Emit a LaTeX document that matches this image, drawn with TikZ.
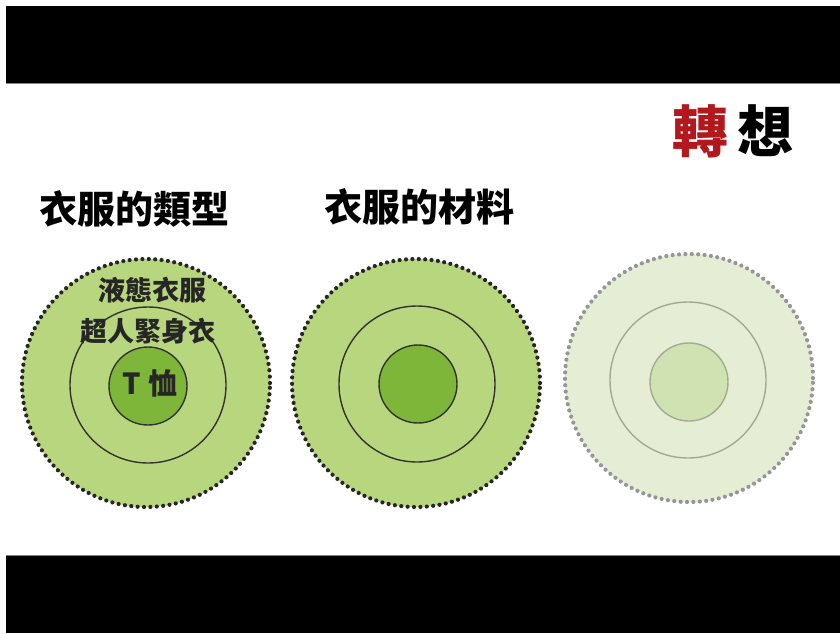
\documentclass[tikz,border=0pt]{standalone}
\usepackage{fontspec}
\newfontfamily\cjk{Noto Sans CJK TC}
\definecolor{gA}{RGB}{184,214,126}
\definecolor{gB}{RGB}{126,182,58}
\definecolor{pA}{RGB}{229,238,212}
\definecolor{pB}{RGB}{208,226,178}
\definecolor{pLine}{RGB}{160,172,145}
\definecolor{pDot}{RGB}{150,150,150}
\definecolor{redT}{RGB}{178,24,30}
\tikzset{
  outerring/.style={circle, minimum size=248pt, inner sep=0pt, fill=gA, draw=black!85, line width=4.2pt, dash pattern=on 0pt off 6.4pt, line cap=round},
  midring/.style={circle, minimum size=156pt, inner sep=0pt, draw=black!80, line width=1.4pt},
  innerring/.style={circle, minimum size=78pt, inner sep=0pt, fill=gB, draw=black!80, line width=1.4pt},
  title/.style={font=\cjk\bfseries\fontsize{38}{38}\selectfont, inner sep=0pt},
  label/.style={font=\cjk\bfseries\fontsize{27}{27}\selectfont, inner sep=0pt, text=black!85},
}
\begin{document}
\begin{tikzpicture}[x=1pt,y=-1pt]
\useasboundingbox (0,0) rectangle (840,633);
\fill[white] (0,0) rectangle (840,633);
\fill[black] (6,6) rectangle (840,83);
\fill[black] (6,556) rectangle (840,633);
\draw[gray, line width=1pt] (6,83.5) -- (840,83.5);
\draw[gray, line width=1pt] (6,555.5) -- (840,555.5);
% title
\node[title, font=\cjk\bfseries\fontsize{56}{56}\selectfont, anchor=west] (zhuan) at (672,131) {\textcolor{redT}{轉}\,想};
\node[title, anchor=west] (t1) at (39,209) {衣服的類型};
\node[title, anchor=west] (t2) at (324,207) {衣服的材料};
% circle 1
\node[outerring] (o1) at (146,383) {};
\node[midring] (m1) at (148,385) {};
\node[innerring] (i1) at (148,386) {};
\node[label] (l1) at (152,290) {液態衣服};
\node[label] (l2) at (148,331) {超人緊身衣};
\node[label, font=\cjk\bfseries\fontsize{29}{29}\selectfont] (l3) at (150,383) {T 恤};
% circle 2
\node[outerring] (o2) at (416,383) {};
\node[midring] (m2) at (417,384) {};
\node[innerring] (i2) at (418,384) {};
% circle 3
\node[outerring, fill=pA, draw=pDot] (o3) at (689,378) {};
\node[midring, draw=pLine] (m3) at (688,380) {};
\node[innerring, fill=pB, draw=pLine] (i3) at (689,382) {};
\end{tikzpicture}
\end{document}
